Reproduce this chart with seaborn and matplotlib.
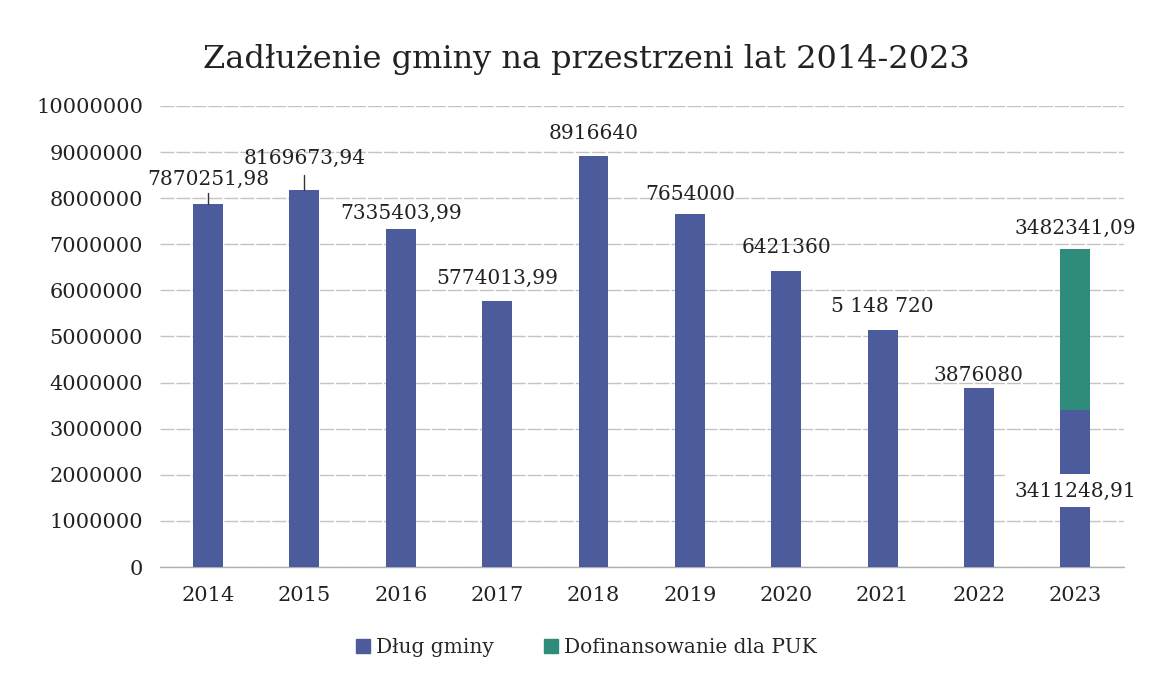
import matplotlib
matplotlib.use("Agg")
import matplotlib.pyplot as plt
import seaborn as sns
import pandas as pd

years = ["2014", "2015", "2016", "2017", "2018", "2019", "2020", "2021", "2022", "2023"]
dlug = [7870251.98, 8169673.94, 7335403.99, 5774013.99, 8916640, 7654000, 6421360, 5148720, 3876080, 3411248.91]
puk = [0, 0, 0, 0, 0, 0, 0, 0, 0, 3482341.09]
labels = ["7870251,98", "8169673,94", "7335403,99", "5774013,99", "8916640",
          "7654000", "6421360", "5 148 720", "3876080", "3411248,91"]
puk_label = "3482341,09"
yticks = [0, 1000000, 2000000, 3000000, 4000000, 5000000, 6000000, 7000000, 8000000, 9000000, 10000000]

BLUE = "#4B5B9B"
GREEN = "#2F8C7A"

sns.set_style("white")
plt.rcParams["font.family"] = ["DejaVu Serif"]

df = pd.DataFrame({"rok": years, "dlug": dlug, "puk": puk})
df["razem"] = df["dlug"] + df["puk"]

fig = plt.figure(figsize=(11.5, 6.82), dpi=100)
ax = fig.add_axes([0.139, 0.1686, 0.838, 0.676])

sns.barplot(data=df, x="rok", y="razem", color=GREEN, width=0.31, saturation=1,
            linewidth=0, ax=ax, zorder=2)
sns.barplot(data=df, x="rok", y="dlug", color=BLUE, width=0.31, saturation=1,
            linewidth=0, ax=ax, zorder=3)

ax.set_ylim(0, 10000000)
ax.set_xlim(-0.5, 9.5)
ax.set_yticks(yticks)
ax.set_yticklabels([str(v) for v in yticks], fontsize=15, color="#222222")
ax.tick_params(axis="x", labelsize=15, colors="#222222", pad=14, length=0)
ax.tick_params(axis="y", length=0, pad=12)
ax.set_xlabel("")
ax.set_ylabel("")
ax.grid(axis="y", color="#c4c4c4", linewidth=1, linestyle=(0, (10, 1.5)), zorder=0)
ax.axhline(0, color="#b0b0b0", linewidth=1, clip_on=False, zorder=1)
for s in ax.spines.values():
    s.set_visible(False)

# etykiety danych
offsets = [18, 23, 11, 16, 16, 14, 17, 17, 9]
for i in range(9):
    ax.annotate(labels[i], (i, dlug[i]), xytext=(0, offsets[i]), textcoords="offset points",
                ha="center", va="center", fontsize=14.5, color="#222222", zorder=5)
# linie odniesienia 2014, 2015
ax.plot([0, 0], [dlug[0], dlug[0] + 250000], color="#333333", lw=1, zorder=4)
ax.plot([1, 1], [dlug[1], dlug[1] + 330000], color="#333333", lw=1, zorder=4)

ax.annotate(puk_label, (9, dlug[9] + puk[9]), xytext=(0, 15), textcoords="offset points",
            ha="center", va="center", fontsize=14.5, color="#222222", zorder=5)
ax.text(9, 1650000, labels[9], ha="center", va="center", fontsize=14.5, color="#222222", zorder=5,
        bbox=dict(boxstyle="square,pad=0.35", fc="white", ec="none"))

fig.suptitle("Zadłużenie gminy na przestrzeni lat 2014-2023", x=0.51, y=0.935,
             fontsize=23, color="#222222")

handles = [plt.Rectangle((0, 0), 1, 1, color=BLUE), plt.Rectangle((0, 0), 1, 1, color=GREEN)]
fig.legend(handles, ["Dług gminy", "Dofinansowanie dla PUK"], loc="center", bbox_to_anchor=(0.51, 0.05),
           ncol=2, frameon=False, fontsize=14.5, handlelength=0.7, handleheight=0.7,
           handletextpad=0.3, columnspacing=2.5)

fig.savefig("out.png", dpi=100)
